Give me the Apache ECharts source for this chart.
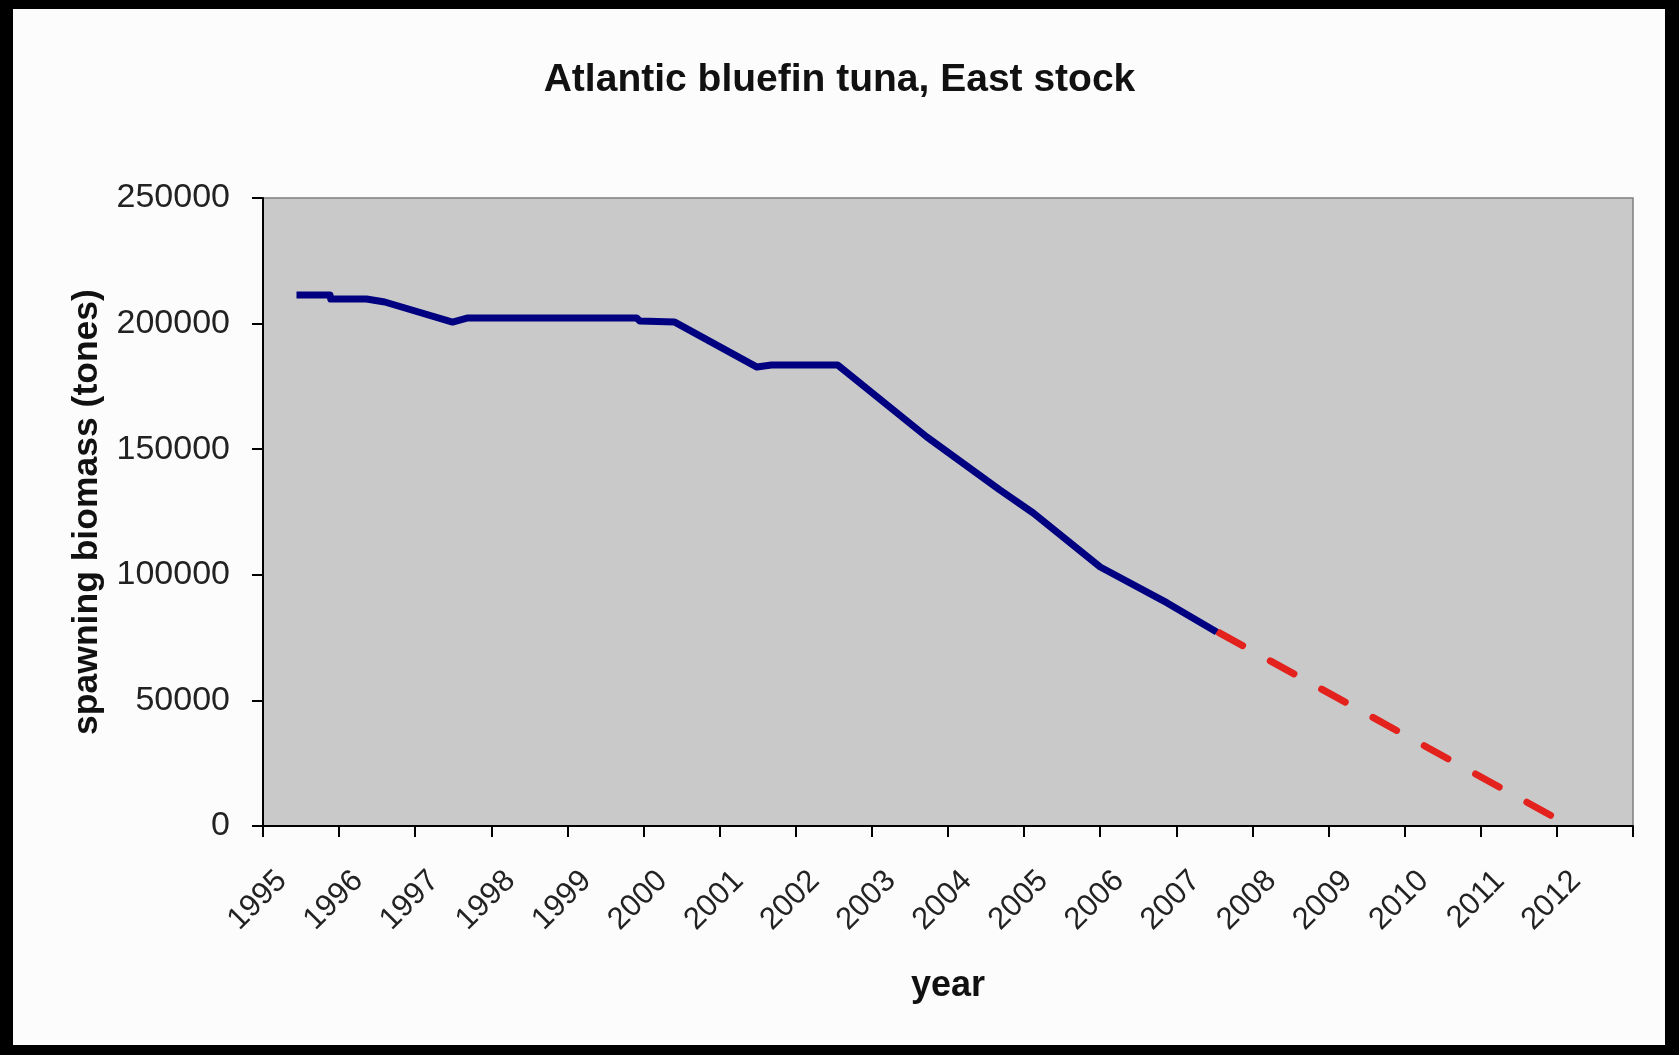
<!DOCTYPE html>
<html>
<head>
<meta charset="utf-8">
<title>Atlantic bluefin tuna, East stock</title>
<script src="https://cdn.jsdelivr.net/npm/echarts@6/dist/echarts.min.js"></script>
<style>
  html, body { margin: 0; padding: 0; background: #000; }
  #panel { position: absolute; left: 13px; top: 9px; width: 1652px; height: 1036px; background: #fcfcfc; }
  #chart { position: absolute; left: 0; top: 0; width: 1679px; height: 1055px; }
</style>
</head>
<body>
<div id="panel"></div>
<div id="chart"></div>
<script>
// Year categories shown along the bottom axis
const years = ['1995', '1996', '1997', '1998', '1999', '2000', '2001', '2002', '2003',
               '2004', '2005', '2006', '2007', '2008', '2009', '2010', '2011', '2012'];

// Spawning biomass estimate (tonnes); positions are fractional years along the axis
const stockYears   = [1995.44, 1995.88, 1995.89, 1996.36, 1996.60, 1997.49, 1997.68, 1999.91,
                      1999.95, 2000.41, 2001.49, 2001.68, 2002.55, 2003.72, 2004.68, 2005.12,
                      2006.00, 2006.88, 2007.53];
const stockBiomass = [211400, 211400, 209800, 209800, 208600, 200600, 202200, 202200,
                      201000, 200600, 182700, 183500, 183500, 154900, 133800, 124600,
                      103100, 88800, 77200];

// Projected decline of the stock
const projYears   = [2007.56, 2011.92];
const projBiomass = [77000, 4200];

// Vertical axis range
const biomassMin = 0;
const biomassMax = 250000;
const biomassStep = 50000;

const FONT = '"Liberation Sans", Arial, sans-serif';

const pairs = (xs, ys) => xs.map((x, i) => [x, ys[i]]);

const chart = echarts.init(document.getElementById('chart'), null, { renderer: 'canvas' });

chart.setOption({
  animation: false,
  backgroundColor: 'transparent',
  title: {
    text: 'Atlantic bluefin tuna, East stock',
    left: 'center',
    top: 56,
    textStyle: { fontFamily: FONT, fontSize: 39, fontWeight: 'bold', color: '#111' }
  },
  grid: {
    left: 263, right: 46, top: 198, bottom: 229,
    show: true,
    backgroundColor: '#c9c9c9',
    borderColor: '#7f7f7f',
    borderWidth: 1.5,
    containLabel: false,
    outerBoundsMode: 'none'
  },
  xAxis: [
    {
      type: 'category',
      data: years,
      boundaryGap: true,
      position: 'bottom',
      axisLine: { show: true, lineStyle: { color: '#000', width: 2 } },
      axisTick: { show: true, interval: 0, length: 11, lineStyle: { color: '#000', width: 2 } },
      axisLabel: {
        interval: 0, rotate: 45, margin: 31, padding: [0, 27, 0, 0],
        fontFamily: FONT, fontSize: 31, color: '#222'
      },
      splitLine: { show: false },
      name: 'year',
      nameLocation: 'middle',
      nameGap: 142,
      nameTextStyle: { fontFamily: FONT, fontSize: 36, fontWeight: 'bold', color: '#111' }
    },
    {
      type: 'value',
      min: 1995,
      max: 2013,
      show: false
    }
  ],
  yAxis: {
    type: 'value',
    min: biomassMin,
    max: biomassMax,
    interval: biomassStep,
    axisLine: { show: true, lineStyle: { color: '#000', width: 2 } },
    axisTick: { show: true, length: 11, lineStyle: { color: '#000', width: 2 } },
    axisLabel: {
      margin: 33, fontFamily: FONT, fontSize: 34, color: '#222',
      formatter: v => String(v)
    },
    splitLine: { show: false },
    name: 'spawning biomass (tones)',
    nameLocation: 'middle',
    nameRotate: 90,
    nameGap: 156,
    nameTextStyle: { fontFamily: FONT, fontSize: 35.5, fontWeight: 'bold', color: '#111' }
  },
  series: [
    {
      name: 'estimate',
      type: 'line',
      xAxisIndex: 1,
      data: pairs(stockYears, stockBiomass),
      symbol: 'none',
      lineStyle: { color: '#000080', width: 7, join: 'round' },
      z: 3
    },
    {
      name: 'projection',
      type: 'line',
      xAxisIndex: 1,
      data: pairs(projYears, projBiomass),
      symbol: 'none',
      lineStyle: { color: '#e3221e', width: 7, type: [27, 31.6], cap: 'round' },
      z: 2
    }
  ]
});
</script>
</body>
</html>
